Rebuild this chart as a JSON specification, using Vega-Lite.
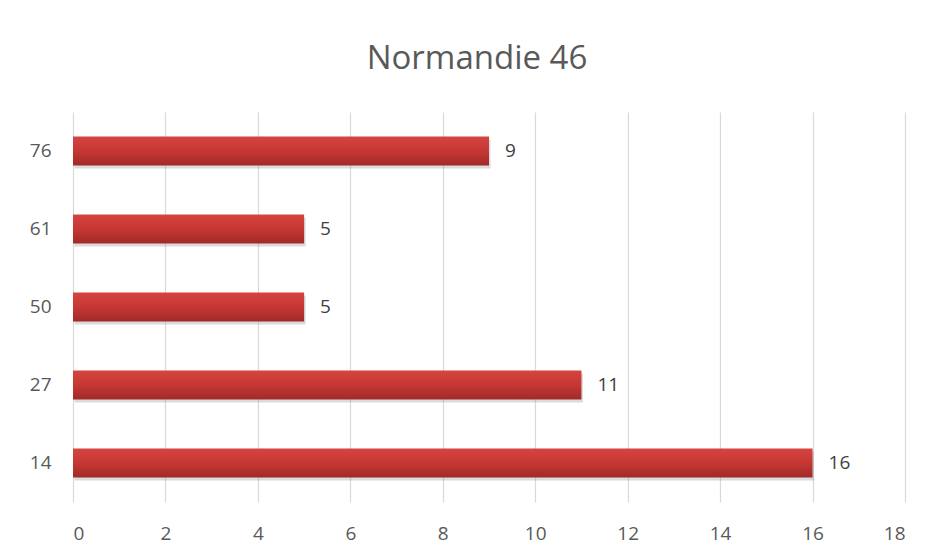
{
  "$schema": "https://vega.github.io/schema/vega-lite/v6.json",
  "width": 832,
  "height": 390,
  "autosize": {"type": "none"},
  "padding": {"left": 73, "top": 112, "right": 25, "bottom": 54},
  "background": "white",
  "title": {
    "text": "Normandie 46",
    "font": "Open Sans",
    "fontSize": 33,
    "fontWeight": "normal",
    "color": "#595959",
    "anchor": "middle",
    "dx": -12,
    "offset": 36
  },
  "data": {
    "values": [
      {"dept": "76", "n": 9},
      {"dept": "61", "n": 5},
      {"dept": "50", "n": 5},
      {"dept": "27", "n": 11},
      {"dept": "14", "n": 16}
    ]
  },
  "encoding": {
    "y": {
      "field": "dept",
      "type": "nominal",
      "sort": null,
      "axis": {
        "title": null,
        "domain": false,
        "ticks": false,
        "labelFont": "Open Sans",
        "labelFontSize": 19,
        "labelColor": "#595959",
        "labelPadding": 22
      }
    },
    "x": {
      "field": "n",
      "type": "quantitative",
      "scale": {"domain": [0, 18], "nice": false},
      "axis": {
        "title": null,
        "values": [0, 2, 4, 6, 8, 10, 12, 14, 16, 18],
        "domain": false,
        "ticks": false,
        "grid": true,
        "gridColor": "#d9d9d9",
        "gridWidth": 1.2,
        "labelFont": "Open Sans",
        "labelFontSize": 19,
        "labelColor": "#595959",
        "labelPadding": 22
      }
    }
  },
  "layer": [
    {
      "mark": {"type": "bar", "size": 29, "color": "#999999", "opacity": 0.35, "yOffset": 3, "xOffset": 1.5},
      "encoding": {}
    },
    {
      "mark": {
        "type": "bar",
        "size": 29,
        "color": {
          "gradient": "linear",
          "x1": 0, "y1": 0, "x2": 0, "y2": 1,
          "stops": [
            {"offset": 0, "color": "#d5443f"},
            {"offset": 0.5, "color": "#c63734"},
            {"offset": 1, "color": "#a02a28"}
          ]
        }
      },
      "encoding": {}
    },
    {
      "mark": {
        "type": "text",
        "align": "left",
        "dx": 16,
        "font": "Open Sans",
        "fontSize": 19,
        "color": "#404040"
      },
      "encoding": {"text": {"field": "n", "type": "quantitative"}}
    }
  ],
  "config": {"view": {"stroke": null}}
}
